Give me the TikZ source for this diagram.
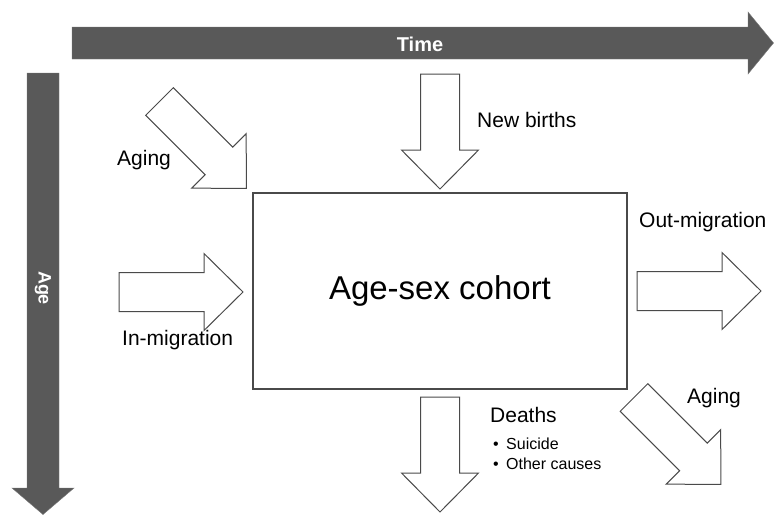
\documentclass[tikz,border=0pt]{standalone}
\usepackage{fontspec}
\setmainfont{Liberation Sans}
\definecolor{axisgray}{HTML}{595959}
\definecolor{edgegray}{HTML}{4A4A4A}
\tikzset{
  arrowline/.style={draw=edgegray, line width=1pt, fill=white, line join=miter},
  pics/barrow/.style={code={
    \draw[arrowline] (0,-19.5) -- (#1,-19.5) -- (#1,-38.5) -- ++(39,38.5)
      -- (#1,38.5) -- (#1,19.5) -- (0,19.5) -- cycle;}},
  axisarrow/.style={fill=axisgray, draw=axisgray!80, line width=0.4pt},
  axislabel/.style={text=white, font=\bfseries\fontsize{18}{21}\selectfont, inner sep=0pt},
  lbl/.style={font=\fontsize{21}{25}\selectfont, inner sep=0pt, anchor=west},
  smalllbl/.style={font=\fontsize{16}{19}\selectfont, inner sep=0pt, anchor=west},
  cohortbox/.style={draw=edgegray, line width=1.3pt, minimum width=374pt, minimum height=196pt,
    inner sep=0pt, font=\fontsize{33}{39}\selectfont}
}
\begin{document}
\begin{tikzpicture}[x=1pt, y=-1pt]
\useasboundingbox (0,0) rectangle (774,515);
% axis arrows
\path[axisarrow] (72,27) -- (748,27) -- (748,12) -- (773.5,43) -- (748,74) -- (748,59) -- (72,59) -- cycle;
\node[axislabel, font=\bfseries\fontsize{20}{23}\selectfont] (time) at (420,44) {Time};
\path[axisarrow] (27,73) -- (59,73) -- (59,488) -- (74,488) -- (43,514.5) -- (12,488) -- (27,488) -- cycle;
\node[axislabel, rotate=-90] (age) at (43,288) {Age};
% cohort box
\node[cohortbox] (cohort) at (440,291) {Age-sex cohort};
% block arrows
\pic[rotate=-90] at (440,74) {barrow=76};
\pic[rotate=-90] at (440,397) {barrow=76};
\pic at (119,292) {barrow=85};
\pic at (637,291) {barrow=85};
\pic[rotate=-45] at (159.5,101.5) {barrow=84};
\pic[rotate=-45] at (634,397.5) {barrow=84};
% labels
\node[lbl] (births) at (477,120) {New births};
\node[lbl] (agingA) at (117,160) {Aging};
\node[lbl] (inmig) at (122,340) {In-migration};
\node[lbl] (outmig) at (639,222) {Out-migration};
\node[lbl] (deaths) at (490,415) {Deaths};
\node[smalllbl] (suicide) at (493,444) {\makebox[13pt][l]{•}Suicide};
\node[smalllbl] (other) at (493,464) {\makebox[13pt][l]{•}Other causes};
\node[lbl] (agingB) at (687,398) {Aging};
\end{tikzpicture}
\end{document}
